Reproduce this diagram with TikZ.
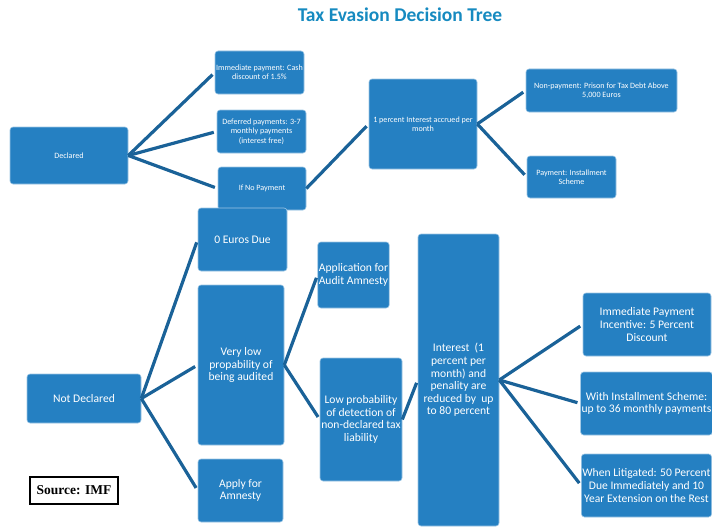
\documentclass[tikz,border=0pt]{standalone}
\usepackage{fontspec}
\setmainfont{Carlito}
\newfontfamily\srcfont{Liberation Serif}
\usetikzlibrary{positioning}
\definecolor{boxblue}{RGB}{37,128,194}
\definecolor{linkblue}{RGB}{26,98,152}
\definecolor{titleblue}{RGB}{22,138,192}

\tikzset{
  box/.style={draw=boxblue!45, line width=0.6pt, fill=boxblue,
              rounded corners=3pt, text=white, align=center, inner sep=1pt},
  small/.style={box, font=\fontsize{8.1}{9.3}\selectfont},
  large/.style={box, font=\fontsize{11.6}{12.6}\selectfont},
  link/.style={draw=linkblue, line width=3.2pt, shorten >=3pt}
}

\begin{document}
\begin{tikzpicture}[x=1pt, y=-1pt]
  \useasboundingbox (0,0) rectangle (712,527);

  % title
  \node[text=titleblue, font=\fontsize{19.5}{22}\selectfont\bfseries] (title) at (400,15)
    {Tax Evasion Decision Tree};

  % declared branch
  \node[small, minimum width=118pt, minimum height=57pt] (declared) at (69,155.5) {Declared};
  \node[small, minimum width=89pt, minimum height=43pt] (immpay) at (259.5,72.5)
    {Immediate payment: Cash\\discount of 1.5\%};
  \node[small, minimum width=89pt, minimum height=43pt] (deferred) at (261.5,131.5)
    {Deferred payments: 3-7\\monthly payments\\(interest free)};
  \node[small, minimum width=88pt, minimum height=43pt] (nopay) at (262,188.5) {If No Payment};
  \node[small, minimum width=108pt, minimum height=90pt] (accrued) at (423,124)
    {1 percent Interest accrued per\\month};
  \node[small, minimum width=151pt, minimum height=43pt] (prison) at (601.5,90.5)
    {Non-payment: Prison for Tax Debt Above\\5,000 Euros};
  \node[small, minimum width=89pt, minimum height=42pt] (instal) at (571.5,177)
    {Payment: Installment\\Scheme};

  % not declared branch
  \node[large, minimum width=114pt, minimum height=49pt] (notdecl) at (84,398.5) {Not Declared};
  \node[large, minimum width=89pt, minimum height=63pt] (zero) at (242.5,239.5) {0 Euros Due};
  \node[large, minimum width=86pt, minimum height=160pt] (verylow) at (241,365)
    {Very low\\propability of\\being audited};
  \node[large, minimum width=85pt, minimum height=63pt] (applyam) at (240.5,490.5)
    {Apply for\\Amnesty};
  \node[large, minimum width=71pt, minimum height=66pt] (auditam) at (353.5,275)
    {Application for\\Audit Amnesty};
  \node[large, minimum width=82pt, minimum height=123pt] (lowprob) at (361,419.5)
    {Low probability\\of detection of\\non-declared tax\\liability};
  \node[large, minimum width=81pt, minimum height=292pt] (reduced) at (458.5,380)
    {Interest\ \ (1\\percent per\\month) and\\penality are\\reduced by\ \ up\\to 80 percent};
  \node[large, minimum width=128pt, minimum height=63pt] (incent) at (647,324.5)
    {Immediate Payment\\Incentive: 5 Percent\\Discount};
  \node[large, minimum width=129pt, minimum height=63pt] (scheme) at (646.5,403.5)
    {With Installment Scheme:\\up to 36 monthly payments};
  \node[large, minimum width=129pt, minimum height=63pt] (litig) at (646.5,485.5)
    {When Litigated: 50 Percent\\Due Immediately and 10\\Year Extension on the Rest};

  % connectors
  \foreach \a/\b in {declared/immpay, declared/deferred, declared/nopay,
                     nopay/accrued, accrued/prison, accrued/instal,
                     notdecl/zero, notdecl/verylow, notdecl/applyam,
                     verylow/auditam, verylow/lowprob, lowprob/reduced,
                     reduced/incent, reduced/scheme, reduced/litig}
    \draw[link] (\a.east) -- (\b.west);

  % source
  \node[draw=black, line width=1.8pt, fill=white, minimum width=88pt, minimum height=27pt,
        inner sep=1pt, font=\srcfont\fontsize{13.5}{15}\selectfont\bfseries] (source) at (74,490.5)
    {Source: IMF};
\end{tikzpicture}
\end{document}
